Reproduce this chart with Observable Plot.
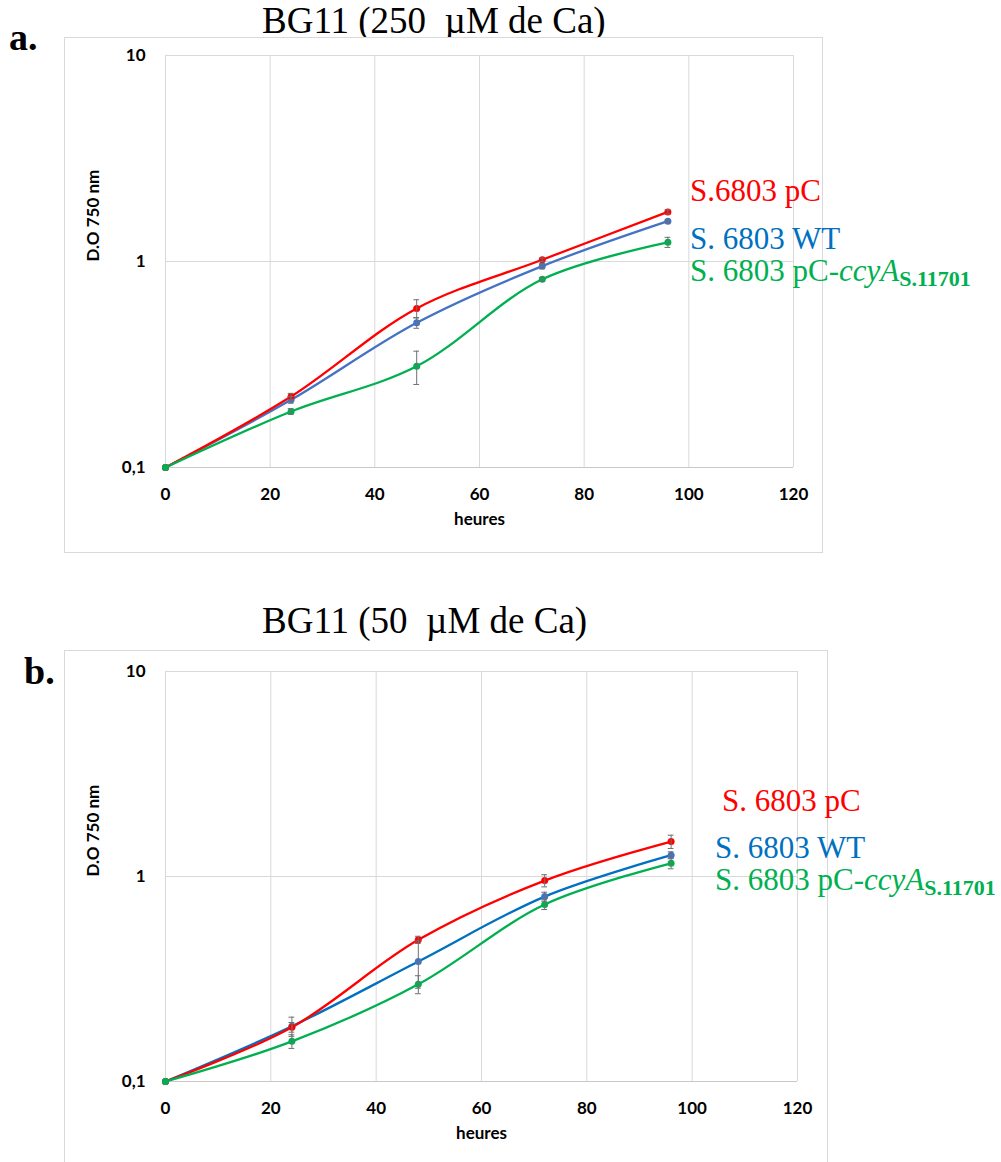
<!DOCTYPE html>
<html>
<head>
<meta charset="utf-8">
<script src="https://cdn.jsdelivr.net/npm/d3@7"></script>
<script src="https://cdn.jsdelivr.net/npm/@observablehq/plot@0.6"></script>
<style>
  html, body { margin: 0; padding: 0; background: #fff; }
  #page { position: relative; width: 1001px; height: 1162px; overflow: hidden; background: #fff; }
  .box { position: absolute; border: 1px solid #d9d9d9; box-sizing: border-box; background: #fff; }
  .box svg { position: absolute; left: 0; top: 0; }
  .title { position: absolute; font-family: "Liberation Serif", "Times New Roman", serif; font-size: 37px; white-space: pre; line-height: 1; color: #000; }
  .letter { position: absolute; font-family: "Liberation Serif", "Times New Roman", serif; font-size: 38px; font-weight: bold; line-height: 1; color: #000; }
  .leg { position: absolute; font-family: "Liberation Serif", "Times New Roman", serif; font-size: 31px; white-space: pre; line-height: 1; }
  .leg sub { font-size: 22px; font-weight: bold; vertical-align: baseline; position: relative; top: 5px; }
</style>
</head>
<body>
<div id="page">
  <div class="letter" style="left:9px; top:18px;">a.</div>
  <div class="title" style="left:262px; top:2px;">BG11 (250  µM de Ca)</div>
  <div class="box" id="boxA" style="left:64px; top:37px; width:759px; height:516px;"></div>
  <div class="leg" style="left:690px; top:175px; color:#ff0000;">S.6803 pC</div>
  <div class="leg" style="left:690px; top:223px; color:#0070c0;">S. 6803 WT</div>
  <div class="leg" style="left:690px; top:255px; color:#00b050;">S. 6803 pC-<i>ccyA</i><sub>S.11701</sub></div>

  <div class="letter" style="left:24px; top:652px;">b.</div>
  <div class="title" style="left:262px; top:602px;">BG11 (50  µM de Ca)</div>
  <div class="box" id="boxB" style="left:64px; top:650px; width:764px; height:520px;"></div>
  <div class="leg" style="left:722px; top:785px; color:#ff0000;">S. 6803 pC</div>
  <div class="leg" style="left:715px; top:832px; color:#0070c0;">S. 6803 WT</div>
  <div class="leg" style="left:715px; top:864px; color:#00b050;">S. 6803 pC-<i>ccyA</i><sub>S.11701</sub></div>
</div>
<script>
// ---- data ----
const hours = [0, 24, 48, 72, 96];
const xTicks = [0, 20, 40, 60, 80, 100, 120];
const yTicks = [0.1, 1, 10];
const yTickLabels = ["0,1", "1", "10"];

// Panel a: BG11 (250 µM de Ca)
const aPC = [0.1, 0.221, 0.592, 1.02, 1.74];
const aPCerr = [0, 0.008, 0.06, 0.02, 0.04];
const aWT = [0.1, 0.213, 0.504, 0.95, 1.57];
const aWTerr = [0, 0.008, 0.03, 0.03, 0.02];
const aCcy = [0.1, 0.187, 0.31, 0.82, 1.24];
const aCcyErr = [0, 0.006, 0.057, 0.015, 0.07];

// Panel b: BG11 (50 µM de Ca)
const bPC = [0.1, 0.184, 0.491, 0.955, 1.48];
const bPCerr = [0, 0.01, 0.02, 0.065, 0.11];
const bWT = [0.1, 0.186, 0.385, 0.798, 1.27];
const bWTerr = [0, 0.02, 0.1, 0.04, 0.05];
const bCcy = [0.1, 0.157, 0.298, 0.73, 1.16];
const bCcyErr = [0, 0.012, 0.03, 0.04, 0.07];

function rows(name, values, errs) {
  return hours.map((h, i) => ({x: h, y: values[i], err: errs[i], name}));
}

function panel({series, width, height, marginTop, marginRight, marginBottom, marginLeft}) {
  const all = series.flatMap(s => s.data);
  const errs = all.filter(d => d.err > 0);
  const marks = [
    Plot.gridX(xTicks, {stroke: "#d9d9d9", strokeOpacity: 1}),
    Plot.gridY([1, 10], {stroke: "#d9d9d9", strokeOpacity: 1}),
    Plot.ruleY([0.1], {stroke: "#c8c8c8"}),
    Plot.axisX(xTicks, {tickSize: 0, tickPadding: 20, label: null}),
    Plot.axisY(yTicks, {tickSize: 0, tickPadding: 20, label: null, tickFormat: (d) => yTickLabels[yTicks.indexOf(d)]}),
    Plot.text(["heures"], {frameAnchor: "bottom", dy: 57, text: d => d}),
    Plot.text(["D.O 750 nm"], {frameAnchor: "left", dx: -72, rotate: -90, text: d => d})
  ];
  for (const s of series) {
    marks.push(Plot.line(s.data, {x: "x", y: "y", stroke: s.line, strokeWidth: 2.3, curve: "catmull-rom"}));
  }
  for (const s of series) {
    marks.push(Plot.dot(s.data, {x: "x", y: "y", fill: s.dot, r: 3.5}));
  }
  marks.push(Plot.ruleX(errs, {x: "x", y1: d => d.y - d.err, y2: d => d.y + d.err, stroke: "#6f6f6f", strokeWidth: 1}));
  marks.push(Plot.ruleY(errs, {y: d => d.y - d.err, x1: d => d.x - 0.55, x2: d => d.x + 0.55, stroke: "#6f6f6f", strokeWidth: 1}));
  marks.push(Plot.ruleY(errs, {y: d => d.y + d.err, x1: d => d.x - 0.55, x2: d => d.x + 0.55, stroke: "#6f6f6f", strokeWidth: 1}));
  return Plot.plot({
    width, height, marginTop, marginRight, marginBottom, marginLeft,
    style: {fontFamily: "Lato, 'Open Sans', sans-serif", fontSize: "17px", fontWeight: "700", color: "#000", background: "transparent", overflow: "visible"},
    x: {domain: [0, 120]},
    y: {type: "log", domain: [0.1, 10]},
    marks
  });
}

const svgA = panel({
  width: 757, height: 514, marginTop: 17, marginRight: 29, marginBottom: 85, marginLeft: 100,
  series: [
    {data: rows("S. 6803 WT", aWT, aWTerr), line: "#4472c4", dot: "#4472c4"},
    {data: rows("S.6803 pC", aPC, aPCerr), line: "#ff0000", dot: "#ff0000"},
    {data: rows("S. 6803 pC-ccyA", aCcy, aCcyErr), line: "#00b050", dot: "#00b050"}
  ]
});
document.getElementById("boxA").appendChild(svgA);

const svgB = panel({
  width: 762, height: 518, marginTop: 20, marginRight: 30, marginBottom: 88, marginLeft: 100,
  series: [
    {data: rows("S. 6803 WT", bWT, bWTerr), line: "#0070c0", dot: "#4472c4"},
    {data: rows("S. 6803 pC", bPC, bPCerr), line: "#ff0000", dot: "#ff0000"},
    {data: rows("S. 6803 pC-ccyA", bCcy, bCcyErr), line: "#00b050", dot: "#00b050"}
  ]
});
document.getElementById("boxB").appendChild(svgB);
</script>
</body>
</html>
